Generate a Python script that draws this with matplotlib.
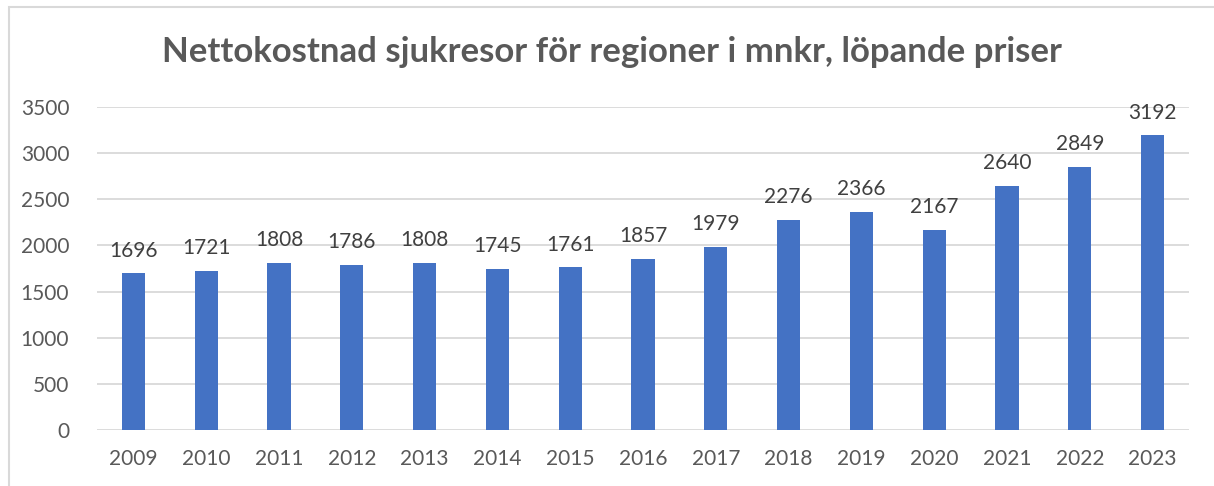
import matplotlib.pyplot as plt
import matplotlib.patches as patches

years = ['2009', '2010', '2011', '2012', '2013', '2014', '2015', '2016',
         '2017', '2018', '2019', '2020', '2021', '2022', '2023']
cost = [1696, 1721, 1808, 1786, 1808, 1745, 1761, 1857,
        1979, 2276, 2366, 2167, 2640, 2849, 3192]

W, H = 1214, 486
plt.rcParams['font.family'] = ['Lato', 'DejaVu Sans']

fig = plt.figure(figsize=(W / 100, H / 100), dpi=100)
# light chart frame, cut off at right and bottom like the screenshot
fig.add_artist(patches.Rectangle((9 / W, -0.1), 1.2, 1 - 7 / H + 0.1,
                                 transform=fig.transFigure, fill=False,
                                 edgecolor='#D9D9D9', linewidth=1.5))

ax = fig.add_axes([97 / W, 1 - 430 / H, (1189 - 97) / W, (430 - 107) / H])
x = range(len(years))
ax.bar(x, cost, width=0.32, color='#4472C4', zorder=3)
for i, v in zip(x, cost):
    ax.text(i, v + 140, str(v), ha='center', va='bottom', fontsize=15, color='#404040')

ax.set_xlim(-0.5, len(years) - 0.5)
ax.set_ylim(0, 3500)
ax.set_yticks(range(0, 3501, 500))
ax.set_xticks(list(x))
ax.set_xticklabels(years)
ax.yaxis.grid(True, color='#D9D9D9', linewidth=1.3, zorder=0)
ax.tick_params(length=0, labelsize=15, labelcolor='#595959')
ax.tick_params(axis='x', pad=14)
ax.tick_params(axis='y', pad=20)
for s in ax.spines.values():
    s.set_visible(False)

fig.text(612 / W, 1 - 52 / H, 'Nettokostnad sjukresor för regioner i mnkr, löpande priser',
         ha='center', va='center', fontsize=25, fontweight='bold', color='#595959')

fig.savefig('out.png', dpi=100)
